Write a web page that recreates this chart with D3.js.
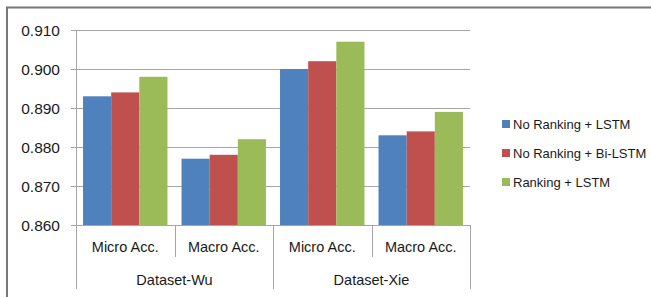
<!DOCTYPE html>
<html>
<head>
<meta charset="utf-8">
<script src="https://cdn.jsdelivr.net/npm/d3@7"></script>
<style>
  body { margin: 0; background: #fff; }
  svg text { font-family: "Liberation Sans", Arial, sans-serif; fill: #1a1a1a; }
</style>
</head>
<body>
<svg id="chart" width="651" height="297"></svg>
<script>
const metrics = ["Micro Acc.", "Macro Acc.", "Micro Acc.", "Macro Acc."];
const datasets = ["Dataset-Wu", "Dataset-Xie"];
const seriesNames = ["No Ranking + LSTM", "No Ranking + Bi-LSTM", "Ranking + LSTM"];
const seriesColors = ["#4F81BD", "#C0504D", "#9BBB59"];
const noRankLSTM = [0.893, 0.877, 0.900, 0.883];
const noRankBiLSTM = [0.894, 0.878, 0.902, 0.884];
const rankLSTM = [0.898, 0.882, 0.907, 0.889];
const yTicks = [0.860, 0.870, 0.880, 0.890, 0.900, 0.910];

const series = [noRankLSTM, noRankBiLSTM, rankLSTM];
const svg = d3.select("#chart");

const plotL = 76, plotR = 470, plotT = 30, plotB = 225;

// outer frame
svg.append("line").attr("x1", 6).attr("x2", 651).attr("y1", 7.5).attr("y2", 7.5)
    .attr("stroke", "#777").attr("stroke-width", 2);
svg.append("line").attr("x1", 7).attr("x2", 7).attr("y1", 7).attr("y2", 297)
    .attr("stroke", "#777").attr("stroke-width", 2);

const y = d3.scaleLinear().domain([0.860, 0.910]).range([plotB, plotT]);
const x = d3.scaleBand().domain(d3.range(metrics.length)).range([plotL, plotR]).paddingInner(0).paddingOuter(0);
const inner = d3.scaleBand().domain(d3.range(series.length))
    .range([0, x.bandwidth()]).paddingInner(0).paddingOuter(0.25);

// gridlines + ticks
svg.append("g").selectAll("line").data(yTicks).enter().append("line")
    .attr("x1", plotL - 5).attr("x2", plotR)
    .attr("y1", d => Math.round(y(d)) + 0.5).attr("y2", d => Math.round(y(d)) + 0.5)
    .attr("stroke", "#a6a6a6");

svg.append("g").selectAll("text").data(yTicks).enter().append("text")
    .attr("x", 60).attr("y", d => y(d)).attr("dy", "0.36em")
    .attr("text-anchor", "end").attr("font-size", 15.5)
    .text(d => d3.format(".3f")(d));

// bars
series.forEach((vals, s) => {
    svg.append("g").selectAll("rect").data(vals).enter().append("rect")
        .attr("x", (d, i) => x(i) + inner(s))
        .attr("width", inner.bandwidth())
        .attr("y", d => y(d))
        .attr("height", d => y(0.860) - y(d))
        .attr("fill", seriesColors[s]);
});

// axes lines
svg.append("line").attr("x1", plotL + 0.5).attr("x2", plotL + 0.5).attr("y1", plotT).attr("y2", 289)
    .attr("stroke", "#a6a6a6");
svg.append("line").attr("x1", plotL - 5).attr("x2", plotR).attr("y1", plotB + 0.5).attr("y2", plotB + 0.5)
    .attr("stroke", "#a6a6a6");

// category separators
const seps = d3.range(1, metrics.length + 1);
svg.append("g").selectAll("line").data(seps).enter().append("line")
    .attr("x1", d => Math.round(plotL + d * x.step()) + 0.5)
    .attr("x2", d => Math.round(plotL + d * x.step()) + 0.5)
    .attr("y1", plotB)
    .attr("y2", d => d % 2 === 0 ? 289 : 257)
    .attr("stroke", "#a6a6a6");

svg.append("g").selectAll("text").data(metrics).enter().append("text")
    .attr("x", (d, i) => x(i) + x.bandwidth() / 2).attr("y", 247).attr("dy", "0.36em")
    .attr("text-anchor", "middle").attr("font-size", 14.5)
    .text(d => d);

svg.append("g").selectAll("text").data(datasets).enter().append("text")
    .attr("x", (d, i) => plotL + (i * 2 + 1) * x.step()).attr("y", 280).attr("dy", "0.36em")
    .attr("text-anchor", "middle").attr("font-size", 14.5)
    .text(d => d);

// legend
const legend = svg.append("g").selectAll("g").data(seriesNames).enter().append("g")
    .attr("transform", (d, i) => `translate(502, ${124 + i * 29})`);
legend.append("rect").attr("x", 0).attr("y", -4).attr("width", 8).attr("height", 8)
    .attr("fill", (d, i) => seriesColors[i]);
legend.append("text").attr("x", 11).attr("y", 0).attr("dy", "0.36em")
    .attr("font-size", 13).text(d => d);
</script>
</body>
</html>
